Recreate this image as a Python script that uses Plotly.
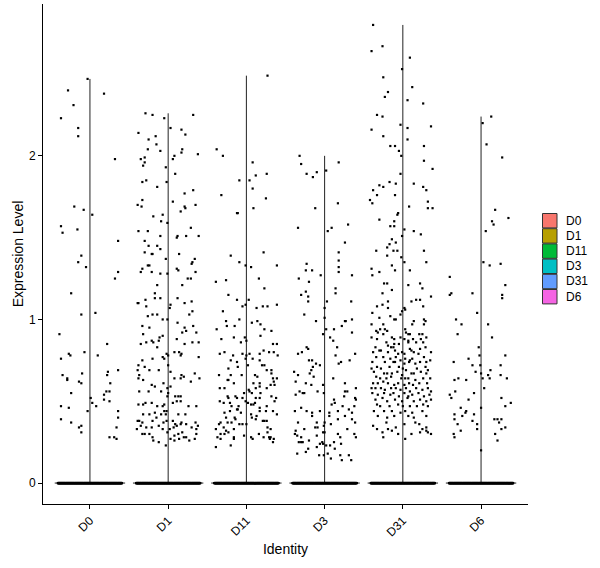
import numpy as np
import plotly.graph_objects as go

# ---------------- data ----------------
categories = ["D0", "D1", "D11", "D3", "D31", "D6"]
fill_colors = ["#F8766D", "#B79F00", "#00BA38", "#00BFC4", "#619CFF", "#F564E3"]
y_ticks = [0, 1, 2]

# number of cells with zero expression per identity (they form the solid band at 0)
zero_counts = [350, 350, 350, 350, 350, 350]

# non-zero cells: (jitter offset, expression level)
D0 = [(-0.03,2.47),(-0.28,2.40),(0.18,2.38),(-0.21,2.31),(-0.37,2.23),(-0.15,2.17),(-0.15,2.12),(0.32,1.98),
      (-0.20,1.69),(-0.08,1.67),(0.03,1.64),(-0.37,1.57),(-0.35,1.53),(-0.16,1.55),(0.36,1.48),(-0.11,1.39),
      (-0.15,1.35),(-0.05,1.32),(0.36,1.29),(0.32,1.25),(-0.24,1.16),(-0.11,1.03),(0.07,1.04),(-0.39,0.91),
      (0.22,0.85),(-0.37,0.76),(-0.27,0.79),(-0.25,0.78),(-0.07,0.80),(0.10,0.78),(0.36,0.69),(0.23,0.68),
      (0.22,0.66),(-0.35,0.66),(-0.29,0.64),(-0.29,0.63),(-0.10,0.67),(-0.14,0.62),(-0.11,0.61),(0.26,0.61),
      (-0.24,0.55),(0.21,0.56),(0.25,0.56),(0.18,0.54),(0.01,0.52),(0.18,0.51),(0.25,0.50),(0.03,0.49),
      (0.08,0.47),(-0.37,0.47),(-0.27,0.46),(0.36,0.44),(-0.03,0.44),(0.36,0.40),(-0.37,0.39),(-0.24,0.37),
      (-0.11,0.35),(-0.14,0.34),(0.34,0.34),(-0.11,0.31),(0.25,0.28),(0.31,0.28),(0.34,0.27)]

D1 = [(-0.29,2.26),(-0.20,2.25),(-0.05,2.23),(0.32,2.25),(0.03,2.17),(0.17,2.16),(0.22,2.13),(-0.38,2.14),
      (-0.16,2.12),(-0.25,2.10),(0.18,2.04),(-0.15,2.07),(-0.26,2.04),(-0.10,2.03),(0.17,2.02),(0.38,2.01),
      (0.08,2.00),(0.06,1.98),(-0.35,1.98),(-0.30,1.99),(-0.30,1.96),(-0.32,1.94),(-0.03,1.93),(0.09,1.89),
      (-0.28,1.85),(-0.33,1.84),(-0.02,1.84),(-0.14,1.81),(0.32,1.79),(0.21,1.77),(-0.33,1.73),(0.06,1.72),
      (-0.39,1.70),(-0.34,1.69),(0.21,1.69),(0.22,1.68),(0.35,1.70),(0.16,1.66),(-0.07,1.64),(-0.19,1.63),
      (-0.09,1.60),(-0.01,1.59),(0.29,1.56),(-0.38,1.54),(-0.26,1.54),(-0.30,1.48),(-0.10,1.51),(0.12,1.51),
      (0.11,1.50),(0.23,1.51),(0.39,1.51),(-0.25,1.45),(-0.14,1.45),(-0.10,1.43),(-0.30,1.41),(-0.20,1.40),
      (-0.21,1.40),(0.14,1.40),(-0.03,1.37),(0.34,1.37),(0.31,1.35),(0.30,1.34),(-0.26,1.33),(-0.24,1.33),
      (-0.33,1.31),(-0.35,1.29),(0.11,1.31),(0.13,1.30),(-0.21,1.29),(-0.10,1.28),(-0.01,1.28),(0.35,1.29),
      (0.29,1.25),(0.25,1.25),(-0.14,1.21),(0.18,1.21),(-0.17,1.16),(-0.38,1.10),(-0.39,1.10),(-0.29,1.12),
      (-0.17,1.13),(-0.10,1.13),(0.12,1.13),(0.21,1.10),(0.30,1.11),(0.03,1.09),(0.02,1.07),(-0.28,1.08),
      (-0.26,1.02),(-0.20,1.03),(-0.14,1.03),(-0.07,1.00),(-0.01,1.00),(0.31,1.05),(0.27,1.03),(0.12,0.98),
      (0.32,0.96),(-0.33,0.96),(-0.24,0.95),(0.21,0.95),(0.23,0.93),(0.18,0.92),(0.36,0.92),(-0.32,0.91),
      (-0.07,0.90),(-0.11,0.89),(-0.12,0.87),(0.39,0.86),(-0.28,0.86),(-0.21,0.87),(-0.19,0.86),(0.11,0.88),
      (0.31,0.86),(0.21,0.85),(-0.35,0.85),(-0.14,0.83),(0.08,0.80),(0.14,0.80),(0.17,0.79),(0.16,0.78),
      (-0.02,0.79),(-0.07,0.77),(-0.05,0.76),(0.00,0.78),(-0.33,0.75),(-0.20,0.76),(0.39,0.77),(-0.38,0.72),
      (-0.30,0.71),(-0.39,0.69),(-0.37,0.66),(-0.24,0.69),(-0.12,0.69),(0.00,0.72),(0.03,0.68),(0.17,0.66),
      (0.20,0.65),(0.34,0.67),(0.40,0.64),(-0.38,0.64),(-0.32,0.63),(-0.21,0.60),(-0.17,0.59),(-0.06,0.61),
      (-0.01,0.58),(0.03,0.59),(0.08,0.64),(0.16,0.64),(0.29,0.62),(-0.37,0.56),(-0.25,0.56),(-0.09,0.56),
      (0.00,0.55),(-0.01,0.53),(0.09,0.53),(0.13,0.53),(0.16,0.53),(0.11,0.50),(0.16,0.50),(-0.38,0.48),
      (-0.32,0.48),(-0.29,0.49),(-0.21,0.49),(-0.14,0.47),(-0.07,0.47),(-0.05,0.48),(0.06,0.49),(0.26,0.47),
      (0.36,0.47),(-0.02,0.44),(-0.05,0.44),(-0.03,0.42),(-0.32,0.42),(-0.24,0.42),(-0.17,0.43),(-0.09,0.42),
      (0.13,0.42),(0.22,0.42),(-0.39,0.38),(-0.37,0.38),(-0.33,0.37),(-0.20,0.38),(-0.15,0.40),(-0.06,0.37),
      (-0.02,0.38),(0.06,0.38),(0.09,0.36),(0.17,0.37),(0.23,0.36),(0.35,0.37),(-0.40,0.33),(-0.35,0.35),
      (-0.28,0.34),(-0.21,0.34),(-0.12,0.35),(-0.07,0.33),(0.02,0.33),(0.07,0.34),(0.11,0.35),(0.16,0.36),
      (0.30,0.34),(0.38,0.35),(-0.30,0.30),(-0.24,0.30),(-0.20,0.28),(-0.19,0.26),(-0.12,0.25),(-0.03,0.23),
      (0.03,0.27),(0.08,0.29),(0.13,0.30),(0.20,0.28),(0.23,0.28),(0.27,0.26),(0.34,0.27),(0.36,0.33),
      (0.36,0.30),(-0.33,0.30),(-0.01,0.31),(0.18,0.31),(0.14,0.27),(0.08,0.26)]

D11 = [(0.27,2.49),(-0.38,2.04),(-0.30,2.00),(0.08,1.96),(0.26,1.89),(0.12,1.88),(-0.09,1.85),(0.04,1.85),
       (0.08,1.80),(0.25,1.74),(-0.32,1.76),(0.09,1.68),(-0.11,1.65),(-0.12,1.65),(0.22,1.41),(-0.20,1.39),
       (-0.09,1.35),(-0.01,1.33),(0.06,1.32),(0.39,1.33),(-0.39,1.23),(-0.26,1.24),(0.16,1.25),(0.23,1.19),
       (-0.23,1.15),(-0.12,1.12),(0.03,1.12),(-0.05,1.08),(-0.01,1.09),(0.13,1.07),(0.21,1.08),(0.27,1.08),
       (0.39,1.09),(-0.30,1.05),(-0.09,1.00),(-0.26,0.99),(-0.25,0.96),(-0.15,0.96),(-0.38,0.94),(0.07,0.98),
       (0.14,0.99),(0.18,0.97),(0.23,0.94),(0.32,0.93),(-0.32,0.88),(-0.16,0.89),(-0.02,0.89),(0.00,0.87),
       (-0.07,0.86),(0.18,0.90),(0.34,0.85),(0.39,0.85),(-0.34,0.79),(-0.28,0.80),(-0.17,0.78),(-0.05,0.79),
       (0.00,0.78),(0.04,0.79),(0.17,0.79),(0.22,0.81),(0.29,0.80),(0.35,0.80),(0.40,0.78),(-0.20,0.75),
       (-0.12,0.74),(-0.01,0.76),(0.08,0.76),(0.17,0.75),(-0.11,0.71),(0.02,0.72),(0.20,0.72),(0.23,0.72),
       (0.26,0.69),(0.32,0.69),(-0.23,0.70),(-0.35,0.66),(-0.20,0.66),(-0.06,0.66),(0.11,0.66),(0.14,0.65),
       (0.32,0.67),(0.34,0.64),(-0.24,0.63),(-0.23,0.63),(0.39,0.64),(-0.16,0.61),(0.09,0.61),(0.17,0.61),
       (0.17,0.59),(0.31,0.60),(0.35,0.62),(0.36,0.60),(-0.34,0.58),(-0.28,0.58),(0.03,0.57),(0.04,0.56),
       (-0.03,0.55),(0.07,0.55),(0.12,0.58),(0.26,0.58),(0.18,0.55),(-0.24,0.53),(-0.14,0.53),(-0.05,0.52),
       (-0.23,0.52),(-0.12,0.52),(0.17,0.52),(0.12,0.52),(0.32,0.53),(0.38,0.52),(-0.34,0.50),(-0.29,0.49),
       (-0.21,0.49),(-0.01,0.50),(0.02,0.49),(0.06,0.48),(0.09,0.48),(0.11,0.49),(0.36,0.50),(-0.19,0.47),
       (-0.10,0.47),(0.17,0.46),(0.26,0.47),(-0.21,0.44),(-0.12,0.45),(-0.11,0.45),(0.25,0.44),(0.34,0.44),
       (-0.28,0.43),(-0.07,0.43),(0.17,0.44),(0.06,0.42),(0.13,0.41),(0.39,0.42),(-0.26,0.40),(-0.15,0.40),
       (0.07,0.40),(0.12,0.39),(0.21,0.38),(0.23,0.38),(0.26,0.38),(-0.14,0.39),(-0.33,0.37),(-0.35,0.36),
       (-0.24,0.37),(-0.19,0.37),(-0.09,0.36),(-0.05,0.36),(0.00,0.36),(-0.39,0.33),(-0.29,0.34),(-0.16,0.33),
       (0.27,0.34),(0.31,0.33),(-0.33,0.30),(-0.28,0.30),(-0.23,0.31),(0.27,0.31),(-0.26,0.32),(-0.37,0.28),
       (-0.33,0.27),(-0.16,0.28),(-0.16,0.27),(-0.03,0.29),(0.06,0.28),(0.08,0.27),(0.16,0.30),(0.22,0.28),
       (0.29,0.28),(0.30,0.27),(0.35,0.27),(0.34,0.25),(-0.20,0.23),(-0.39,0.22),(0.31,0.28)]

D3 = [(-0.32,2.00),(-0.30,1.95),(0.18,1.96),(-0.23,1.89),(-0.10,1.90),(-0.15,1.87),(0.02,1.91),(0.17,1.71),
      (-0.12,1.68),(0.30,1.58),(-0.34,1.56),(0.04,1.54),(0.09,1.56),(0.26,1.47),(0.18,1.41),(0.18,1.36),
      (0.18,1.32),(0.18,1.29),(-0.23,1.34),(-0.24,1.30),(-0.16,1.30),(-0.05,1.27),(0.35,1.27),(-0.33,1.25),
      (-0.20,1.23),(0.14,1.19),(0.14,1.16),(-0.30,1.15),(-0.24,1.17),(-0.21,1.14),(-0.21,1.11),(0.03,1.11),
      (0.34,1.11),(0.00,1.07),(-0.26,1.03),(0.00,1.01),(-0.11,0.99),(0.26,0.99),(0.27,0.99),(0.35,1.00),
      (0.22,0.96),(0.02,0.94),(0.12,0.94),(-0.02,0.91),(0.07,0.89),(0.11,0.87),(0.35,0.92),(0.16,0.83),
      (-0.23,0.83),(-0.21,0.82),(-0.29,0.80),(-0.34,0.79),(0.14,0.78),(0.39,0.79),(-0.20,0.75),(-0.16,0.75),
      (-0.11,0.73),(-0.06,0.72),(0.21,0.74),(0.18,0.73),(0.32,0.75),(-0.15,0.71),(-0.17,0.69),(-0.19,0.67),
      (-0.39,0.68),(-0.34,0.66),(-0.14,0.65),(0.11,0.64),(-0.37,0.62),(-0.24,0.61),(-0.17,0.60),(-0.02,0.60),
      (0.26,0.61),(0.40,0.58),(-0.32,0.56),(-0.26,0.55),(-0.28,0.55),(-0.09,0.56),(-0.01,0.55),(0.26,0.56),
      (0.29,0.56),(-0.37,0.54),(0.25,0.53),(0.39,0.52),(0.12,0.51),(0.40,0.51),(0.13,0.49),(0.09,0.48),
      (-0.30,0.46),(0.23,0.47),(0.38,0.47),(0.31,0.45),(-0.38,0.44),(-0.23,0.44),(-0.16,0.43),(-0.16,0.41),
      (-0.06,0.44),(0.06,0.43),(0.06,0.41),(0.17,0.44),(0.26,0.41),(0.35,0.43),(0.17,0.39),(0.35,0.39),
      (-0.34,0.37),(-0.10,0.37),(0.00,0.37),(0.08,0.36),(-0.01,0.35),(0.39,0.37),(-0.12,0.34),(-0.09,0.34),
      (-0.26,0.33),(0.29,0.33),(-0.37,0.32),(-0.02,0.31),(0.00,0.31),(-0.38,0.30),(-0.35,0.29),(-0.30,0.28),
      (-0.10,0.29),(0.17,0.30),(0.20,0.28),(0.38,0.30),(0.40,0.28),(-0.20,0.26),(-0.03,0.25),(-0.06,0.24),
      (-0.02,0.24),(0.02,0.23),(-0.33,0.25),(-0.30,0.25),(-0.28,0.25),(0.12,0.25),(0.21,0.24),(0.07,0.23),
      (-0.10,0.22),(-0.21,0.21),(-0.35,0.18),(-0.24,0.19),(0.13,0.21),(0.04,0.18),(-0.07,0.17),(-0.01,0.17),
      (0.20,0.17),(0.31,0.17),(0.08,0.15),(0.22,0.14),(0.34,0.14)]

D31 = [(-0.38,2.80),(-0.26,2.67),(-0.40,2.64),(0.09,2.60),(-0.01,2.53),(-0.25,2.48),(0.12,2.42),(-0.19,2.39),
       (-0.23,2.36),(0.06,2.34),(0.26,2.32),(-0.33,2.25),(-0.26,2.24),(-0.40,2.16),(-0.03,2.19),(0.06,2.17),
       (0.36,2.18),(-0.25,2.12),(0.06,2.10),(-0.16,2.06),(-0.10,2.06),(0.27,2.06),(-0.05,2.03),(-0.02,2.00),
       (0.27,1.97),(0.38,1.92),(-0.03,1.89),(0.14,1.83),(-0.17,1.84),(-0.09,1.83),(-0.30,1.82),(0.26,1.81),
       (-0.38,1.79),(0.30,1.79),(-0.25,1.81),(-0.33,1.76),(-0.10,1.76),(-0.42,1.73),(-0.39,1.71),(0.32,1.72),
       (0.32,1.68),(0.38,1.68),(0.08,1.69),(-0.06,1.65),(-0.07,1.64),(-0.30,1.61),(-0.11,1.60),(-0.16,1.57),
       (-0.11,1.57),(0.02,1.55),(0.14,1.54),(0.23,1.52),(-0.01,1.51),(-0.14,1.49),(-0.09,1.47),(-0.20,1.44),
       (-0.17,1.46),(-0.34,1.42),(-0.12,1.42),(-0.07,1.42),(0.27,1.42),(-0.20,1.39),(-0.02,1.38),(0.30,1.35),
       (0.02,1.35),(-0.40,1.31),(-0.14,1.33),(0.09,1.30),(-0.10,1.30),(-0.30,1.29),(-0.39,1.27),(-0.24,1.22),
       (-0.20,1.22),(0.22,1.22),(0.07,1.21),(0.25,1.19),(-0.26,1.16),(-0.14,1.18),(0.36,1.14),(0.17,1.12),
       (0.22,1.12),(0.11,1.11),(-0.19,1.11),(-0.26,1.09),(-0.33,1.08),(0.26,1.08),(-0.19,1.07),(0.02,1.07),
       (0.03,1.06),(-0.01,1.05),(-0.39,1.04),(-0.03,1.03),(-0.30,1.01),(-0.16,1.02),(-0.11,1.00),(-0.09,1.00),
       (0.14,0.99),(0.27,1.00),(0.29,0.99),(0.12,0.97),(-0.40,0.97),(-0.25,0.97),(0.27,0.97),(-0.34,0.93),
       (-0.29,0.94),(-0.23,0.94),(-0.20,0.93),(-0.32,0.92),(-0.25,0.91),(0.03,0.94),(0.04,0.92),(0.07,0.91),
       (0.09,0.91),(0.21,0.91),(0.25,0.91),(-0.40,0.89),(-0.33,0.88),(-0.14,0.89),(-0.11,0.88),(-0.03,0.89),
       (0.02,0.88),(0.07,0.87),(0.13,0.88),(0.23,0.88),(0.30,0.89),(-0.21,0.86),(-0.11,0.85),(-0.05,0.85),
       (0.07,0.86),(0.17,0.86),(0.26,0.86),(-0.35,0.83),(-0.19,0.84),(-0.15,0.83),(-0.12,0.83),(0.09,0.82),
       (0.11,0.81),(0.22,0.82),(0.29,0.83),(-0.38,0.80),(-0.30,0.81),(-0.28,0.81),(-0.19,0.80),(-0.10,0.81),
       (-0.06,0.79),(-0.01,0.80),(0.02,0.79),(0.14,0.80),(0.20,0.79),(0.36,0.80),(-0.34,0.77),(-0.25,0.77),
       (-0.16,0.76),(-0.09,0.77),(-0.03,0.75),(0.03,0.76),(0.09,0.75),(0.12,0.76),(0.27,0.77),(0.35,0.75),
       (-0.39,0.74),(-0.23,0.74),(-0.12,0.74),(-0.10,0.74),(0.02,0.73),(0.08,0.74),(0.16,0.73),(0.22,0.74),
       (0.30,0.74),(-0.40,0.70),(-0.33,0.71),(-0.28,0.70),(-0.17,0.71),(-0.05,0.71),(0.00,0.70),(0.04,0.69),
       (0.18,0.70),(0.29,0.71),(0.32,0.69),(-0.37,0.68),(-0.24,0.67),(-0.20,0.67),(-0.14,0.67),(-0.07,0.68),
       (-0.01,0.66),(0.11,0.67),(0.14,0.67),(0.23,0.68),(0.30,0.67),(-0.34,0.65),(-0.29,0.64),(-0.21,0.64),
       (-0.15,0.65),(-0.02,0.64),(0.03,0.64),(0.07,0.64),(0.16,0.63),(0.26,0.64),(0.35,0.64),(-0.38,0.61),
       (-0.32,0.61),(-0.25,0.62),(-0.19,0.61),(-0.11,0.60),(-0.06,0.61),(0.02,0.60),(0.08,0.61),(0.13,0.60),
       (0.21,0.61),(0.31,0.61),(-0.40,0.58),(-0.35,0.58),(-0.28,0.58),(-0.23,0.57),(-0.15,0.58),(-0.09,0.58),
       (-0.03,0.57),(0.04,0.58),(0.09,0.56),(0.17,0.58),(0.25,0.57),(0.32,0.58),(0.36,0.56),(-0.39,0.55),
       (-0.32,0.54),(-0.24,0.55),(-0.16,0.54),(-0.12,0.55),(-0.05,0.53),(0.02,0.55),(0.07,0.53),(0.12,0.54),
       (0.20,0.55),(0.27,0.53),(0.34,0.54),(-0.35,0.51),(-0.26,0.52),(-0.20,0.50),(-0.10,0.51),(-0.01,0.50),
       (0.06,0.52),(0.14,0.50),(0.22,0.51),(0.30,0.50),(0.36,0.51),(-0.33,0.48),(-0.29,0.47),(-0.17,0.47),
       (-0.06,0.48),(0.00,0.47),(0.09,0.47),(0.18,0.47),(0.26,0.48),(0.32,0.47),(-0.37,0.44),(-0.24,0.44),
       (-0.14,0.44),(-0.03,0.43),(0.03,0.44),(0.12,0.43),(0.25,0.44),(-0.32,0.41),(-0.20,0.40),(-0.11,0.41),
       (0.07,0.41),(0.14,0.40),(0.30,0.41),(-0.38,0.35),(-0.33,0.33),(-0.26,0.31),(-0.25,0.28),(-0.19,0.33),
       (-0.14,0.32),(-0.09,0.34),(-0.06,0.30),(0.02,0.36),(0.03,0.27),(0.11,0.30),(0.21,0.36),(0.22,0.31),
       (0.25,0.33),(0.30,0.34),(0.30,0.32),(0.32,0.31),(0.36,0.30),(-0.21,0.37),(0.16,0.37)]

D6 = [(0.13,2.24),(0.02,2.20),(0.07,2.07),(0.27,1.99),(0.18,1.67),(0.35,1.62),(0.14,1.60),(0.16,1.58),
      (0.06,1.54),(0.03,1.35),(0.11,1.33),(0.25,1.34),(-0.40,1.26),(0.31,1.21),(-0.38,1.16),(-0.40,1.15),
      (-0.11,1.16),(0.27,1.15),(0.27,1.13),(-0.05,1.04),(-0.32,1.00),(-0.25,0.97),(0.09,0.97),(-0.30,0.91),
      (0.14,0.89),(-0.03,0.83),(-0.02,0.78),(-0.16,0.76),(-0.35,0.74),(-0.11,0.72),(-0.01,0.72),(0.31,0.78),
      (0.25,0.72),(0.12,0.69),(-0.07,0.68),(0.00,0.67),(0.09,0.66),(0.25,0.66),(0.02,0.64),(0.11,0.64),
      (0.33,0.64),(-0.34,0.63),(-0.29,0.64),(-0.19,0.63),(0.04,0.58),(-0.33,0.56),(-0.09,0.55),(-0.40,0.54),
      (-0.38,0.52),(0.26,0.52),(-0.16,0.51),(0.38,0.49),(0.31,0.47),(-0.26,0.46),(-0.19,0.44),(-0.20,0.43),
      (0.00,0.46),(-0.34,0.42),(-0.24,0.41),(-0.09,0.42),(-0.34,0.39),(-0.11,0.38),(0.17,0.39),(0.21,0.39),
      (0.26,0.39),(0.23,0.37),(-0.30,0.36),(-0.05,0.36),(0.31,0.34),(0.26,0.33),(-0.05,0.33),(-0.26,0.32),
      (-0.35,0.30),(0.18,0.30),(-0.34,0.28),(0.21,0.26),(0.00,0.20)]

groups = [D0, D1, D11, D3, D31, D6]

# ---------------- figure ----------------
VIOLIN_HALF = 0.45     # half-width of the (degenerate) violin
JITTER_HALF = 0.41     # jitter half-width
LINE_COL = "#222222"

fig = go.Figure()

# violins: with nearly all cells at zero they collapse to a base line and a spine up to the maximum
for i, pts in enumerate(groups):
    ymax = max(p[1] for p in pts)
    fig.add_trace(go.Scatter(
        x=[i - VIOLIN_HALF, i + VIOLIN_HALF, None, i, i],
        y=[0, 0, None, 0, ymax],
        mode="lines", line=dict(color=LINE_COL, width=1),
        showlegend=False, hoverinfo="skip"))

# jittered cells
for i, pts in enumerate(groups):
    n0 = zero_counts[i]
    zero_dx = np.linspace(-JITTER_HALF, JITTER_HALF, n0)
    xs = [i + d for d in zero_dx] + [i + p[0] for p in pts]
    ys = [0.0] * n0 + [p[1] for p in pts]
    fig.add_trace(go.Scatter(
        x=xs, y=ys, mode="markers",
        marker=dict(color="black", size=2.2, symbol="square", line=dict(width=0)),
        showlegend=False, hoverinfo="skip"))

# plot-area geometry (pixels)
L, R, T, B = 43, 72, 4, 64
W, H = 600 - L - R, 568 - T - B

def px_x(px):
    return (px - L) / W

def px_y(py):
    return (568 - B - py) / H

# legend (drawn manually to match ggplot key spacing)
key_x0, key_w, key_top, key_h, key_step = 542.5, 14.5, 213.5, 14.4, 15.2
for i, cat in enumerate(categories):
    top = key_top + i * key_step
    fig.add_shape(type="rect", xref="paper", yref="paper",
                  x0=px_x(key_x0), x1=px_x(key_x0 + key_w),
                  y0=px_y(top + key_h), y1=px_y(top),
                  fillcolor=fill_colors[i], line=dict(color="#333333", width=1))
    fig.add_annotation(xref="paper", yref="paper", x=px_x(key_x0 + key_w + 6.5),
                       y=px_y(top + key_h / 2), text=cat, showarrow=False,
                       xanchor="left", yanchor="middle",
                       font=dict(size=12, color="black"))

fig.update_layout(
    width=600, height=568,
    margin=dict(l=L, r=R, t=T, b=B),
    plot_bgcolor="white", paper_bgcolor="white",
    showlegend=False,
    font=dict(family="Liberation Sans, Arial, sans-serif", size=12, color="black"),
)
fig.update_xaxes(
    range=[-0.6, len(categories) - 0.4],
    tickmode="array", tickvals=list(range(len(categories))), ticktext=categories,
    tickangle=-45, ticks="outside", ticklen=4, tickcolor="black", tickwidth=1,
    tickfont=dict(size=12, color="black"),
    showline=True, linecolor="black", linewidth=1,
    showgrid=False, zeroline=False,
    title=dict(text="Identity", font=dict(size=14, color="black"), standoff=5),
)
fig.update_yaxes(
    range=[-0.128, 2.928],
    tickmode="array", tickvals=y_ticks, ticktext=[str(v) for v in y_ticks],
    ticks="outside", ticklen=4, tickcolor="black", tickwidth=1,
    tickfont=dict(size=12, color="black"),
    showline=True, linecolor="black", linewidth=1,
    showgrid=False, zeroline=False,
    title=dict(text="Expression Level", font=dict(size=14, color="black"), standoff=2),
)

fig.write_html("out.html")
